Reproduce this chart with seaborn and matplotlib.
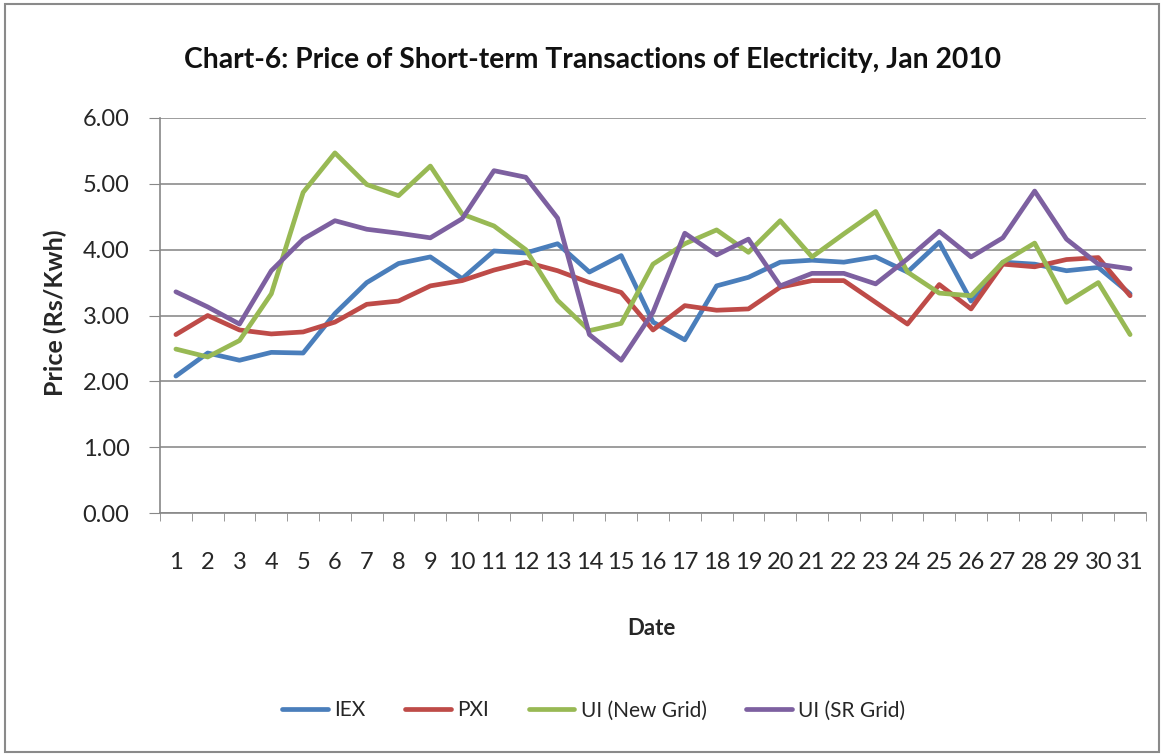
import pandas as pd
import matplotlib
matplotlib.use('Agg')
import matplotlib.pyplot as plt
import seaborn as sns
from matplotlib.patches import Rectangle

dates = list(range(1, 32))

iex = [2.08, 2.43, 2.32, 2.44, 2.43, 3.03, 3.50, 3.79, 3.89, 3.56,
       3.98, 3.95, 4.09, 3.66, 3.91, 2.90, 2.63, 3.45, 3.58, 3.81,
       3.84, 3.81, 3.89, 3.66, 4.11, 3.22, 3.81, 3.78, 3.68, 3.73, 3.33]
pxi = [2.71, 3.00, 2.78, 2.72, 2.75, 2.90, 3.17, 3.22, 3.45, 3.53,
       3.69, 3.81, 3.68, 3.50, 3.35, 2.78, 3.15, 3.08, 3.10, 3.43,
       3.53, 3.53, 3.20, 2.87, 3.47, 3.10, 3.78, 3.74, 3.85, 3.88, 3.30]
ui_new = [2.49, 2.37, 2.62, 3.33, 4.87, 5.47, 4.99, 4.82, 5.27, 4.54,
          4.36, 4.00, 3.23, 2.77, 2.88, 3.78, 4.09, 4.30, 3.96, 4.44,
          3.89, 4.24, 4.58, 3.66, 3.34, 3.30, 3.81, 4.10, 3.20, 3.50, 2.71]
ui_sr = [3.36, 3.13, 2.87, 3.68, 4.16, 4.44, 4.31, 4.25, 4.18, 4.47,
         5.20, 5.10, 4.48, 2.71, 2.32, 3.05, 4.25, 3.92, 4.16, 3.45,
         3.64, 3.64, 3.48, 3.86, 4.28, 3.89, 4.18, 4.89, 4.16, 3.78, 3.71]

series = ['IEX', 'PXI', 'UI (New Grid)', 'UI (SR Grid)']
colors = ['#4A7EBB', '#BE4B48', '#98B954', '#7D60A0']

df = pd.DataFrame({'Date': dates, 'IEX': iex, 'PXI': pxi,
                   'UI (New Grid)': ui_new, 'UI (SR Grid)': ui_sr})
long = df.melt(id_vars='Date', var_name='Series', value_name='Price')

sns.set_style('white')
plt.rcParams['font.family'] = ['Lato', 'DejaVu Sans']

fig = plt.figure(figsize=(11.66, 7.55), dpi=100)
ax = fig.add_axes([160 / 1166, 1 - 513 / 755, 986 / 1166, 395 / 755])

sns.lineplot(data=long, x='Date', y='Price', hue='Series', hue_order=series,
             palette=colors, linewidth=3.4, ax=ax)

ax.set_xlim(0.5, 31.5)
ax.set_ylim(0, 6)
ax.set_yticks([0, 1, 2, 3, 4, 5, 6])
ax.set_yticklabels([f'{v:.2f}' for v in [0, 1, 2, 3, 4, 5, 6]], fontsize=17)
ax.set_xticks(dates)
ax.set_xticklabels([str(d) for d in dates], fontsize=17)
ax.set_xticks([d + 0.5 for d in range(0, 32)], minor=True)
ax.tick_params(axis='x', which='major', length=0, pad=28)
ax.tick_params(axis='x', which='minor', length=6, color='#888888', direction='out', bottom=True)
ax.tick_params(axis='y', length=8, color='#888888', direction='out', left=True, pad=14)

ax.grid(axis='y', color='#8c8c8c', linewidth=1.2)
ax.set_axisbelow(True)
for side in ['top', 'right']:
    ax.spines[side].set_visible(False)
for side in ['left', 'bottom']:
    ax.spines[side].set_color('#888888')
    ax.spines[side].set_linewidth(1.2)

ax.set_xlabel('Date', fontsize=16, fontweight='bold')
ax.set_ylabel('Price (Rs/Kwh)', fontsize=18, fontweight='bold')
ax.xaxis.set_label_coords(0.498, -0.266)
ax.yaxis.set_label_coords(-0.094, 0.506)

fig.text(0.508, 0.92, 'Chart-6: Price of Short-term Transactions of Electricity, Jan 2010',
         ha='center', va='center', fontsize=20.3, fontweight='bold', color='#111111')

leg = ax.legend(loc='center', bbox_to_anchor=(0.44, -0.5), ncol=4, frameon=False,
                fontsize=15, handlelength=2.2, columnspacing=1.9, handletextpad=0.3)
for line in leg.get_lines():
    line.set_linewidth(3.4)

fig.patches.append(Rectangle((5 / 1166, 3 / 755), 1154 / 1166, 748 / 755,
                             transform=fig.transFigure, fill=False,
                             edgecolor='#8a8a8a', linewidth=1.5))

plt.savefig('out.png', dpi=100)
plt.close()
